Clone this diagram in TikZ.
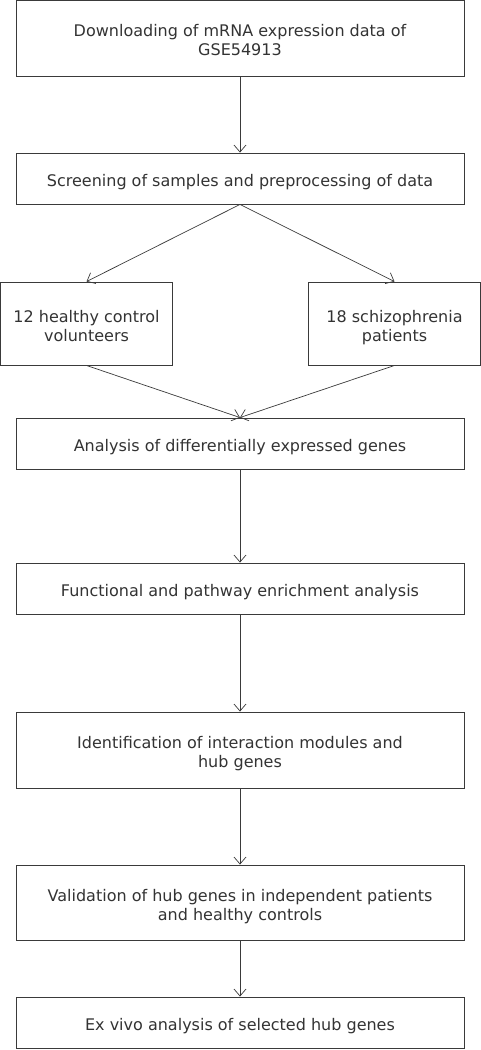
\documentclass[tikz,border=0pt]{standalone}
\usepackage{fontspec}
\setmainfont{DejaVu Sans}
\usetikzlibrary{arrows.meta}
\definecolor{linec}{HTML}{3A3A3A}
\definecolor{txtc}{HTML}{333333}
\newcommand\mytxt[1]{\raisebox{-8.8pt}[0pt][0pt]{\begin{tabular}{@{}c@{}}#1\end{tabular}}}
\begin{document}
\begin{tikzpicture}[x=1pt,y=-1pt,
  box/.style={draw=linec, line width=0.9pt, rectangle, inner sep=0pt, align=center,
    text=txtc, font=\fontsize{16}{18.7}\selectfont},
  wide/.style={box, minimum width=448pt},
  side/.style={box, minimum width=172pt, minimum height=83pt},
  conn/.style={draw=linec, line width=0.7pt, -{Straight Barb[length=7pt,width=12pt,line width=0.7pt]}}
]
\useasboundingbox (0,0) rectangle (481,1050);
\node[wide, minimum height=76pt] (b1) at (240,38) {\mytxt{Downloading of mRNA expression data of\\GSE54913}};
\node[wide, minimum height=51pt] (b2) at (240,178.5) {\mytxt{Screening of samples and preprocessing of data}};
\node[side] (l) at (86.5,323.5) {\mytxt{12 healthy control\\volunteers}};
\node[side] (r) at (394.5,323.5) {\mytxt{18 schizophrenia\\patients}};
\node[wide, minimum height=51pt] (b3) at (240,443.5) {\mytxt{Analysis of differentially expressed genes}};
\node[wide, minimum height=51pt] (b4) at (240,588.5) {\mytxt{Functional and pathway enrichment analysis}};
\node[wide, minimum height=76pt] (b5) at (240,750) {\mytxt{Identification of interaction modules and\\hub genes}};
\node[wide, minimum height=75pt] (b6) at (240,902.5) {\mytxt{Validation of hub genes in independent patients\\and healthy controls}};
\node[wide, minimum height=51pt] (b7) at (240,1022.5) {\mytxt{Ex vivo analysis of selected hub genes}};
\draw[conn] (b1.south) -- (b2.north);
\draw[conn] (b2.south) -- (l.north);
\draw[conn] (b2.south) -- (r.north);
\draw[conn] (l.south) -- (b3.north);
\draw[conn] (r.south) -- (b3.north);
\draw[conn] (b3.south) -- (b4.north);
\draw[conn] (b4.south) -- (b5.north);
\draw[conn] (b5.south) -- (b6.north);
\draw[conn] (b6.south) -- (b7.north);
\end{tikzpicture}
\end{document}
